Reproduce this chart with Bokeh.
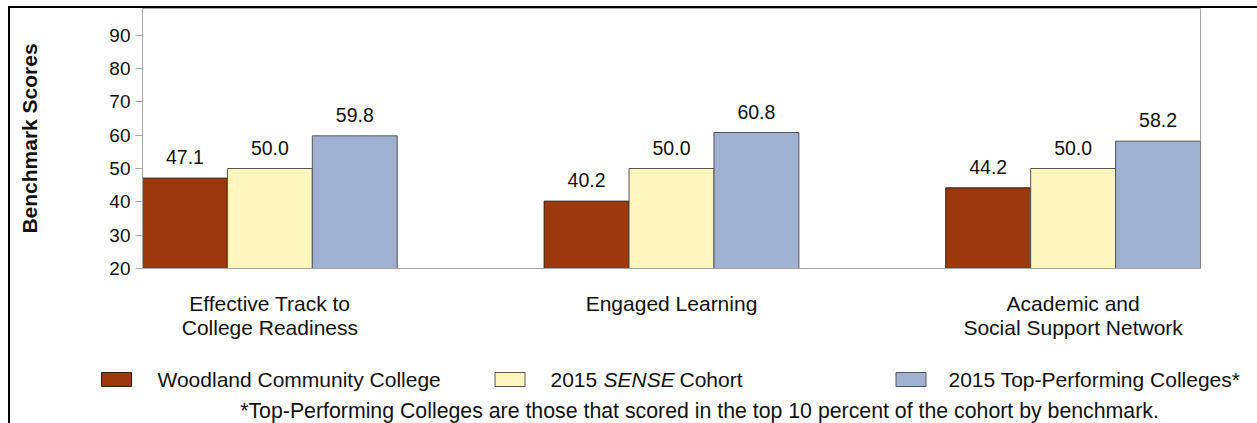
from bokeh.plotting import figure
from bokeh.models import ColumnDataSource, Range1d, FixedTicker
from bokeh.layouts import column
from bokeh.embed import file_html
from bokeh.resources import INLINE
from bokeh.core.properties import value

# ---- data ----
categories = ["Effective Track to\nCollege Readiness", "Engaged Learning",
              "Academic and\nSocial Support Network"]
series_names = ["Woodland Community College", "2015 SENSE Cohort",
                "2015 Top-Performing Colleges*"]
woodland = [47.1, 40.2, 44.2]
sense_cohort = [50.0, 50.0, 50.0]
top_performing = [59.8, 60.8, 58.2]
y_ticks = [20, 30, 40, 50, 60, 70, 80, 90]
footnote = "*Top-Performing Colleges are those that scored in the top 10 percent of the cohort by benchmark."

colors = ["#9D380D", "#FFF5BF", "#A0B0D1"]
outlines = ["#2a1a10", "#555555", "#555555"]
FONT = "Liberation Sans"
W = 1247

series = [woodland, sense_cohort, top_performing]
bar_w = 0.2114
offsets = [-bar_w, 0.0, bar_w]
idx = list(range(len(categories)))

p = figure(width=W, height=340, output_backend="svg", toolbar_location=None,
           x_range=Range1d(-1.5 * bar_w, len(categories) - 1 + 1.5 * bar_w),
           y_range=Range1d(20, 98),
           min_border_left=132, min_border_right=57, min_border_top=0,
           min_border_bottom=80)
p.background_fill_color = "white"
p.border_fill_color = "white"
p.outline_line_color = "#A6A6A6"
p.xgrid.visible = False
p.ygrid.visible = False

for vals, off, c, oc in zip(series, offsets, colors, outlines):
    xs = [i + off for i in idx]
    src = ColumnDataSource(dict(x=xs, top=vals, lab=["%.1f" % v for v in vals]))
    p.vbar(x="x", top="top", bottom=20, width=bar_w, source=src,
           fill_color=c, line_color=oc, line_width=1)
    p.text(x="x", y="top", text="lab", source=src, text_align="center",
           text_baseline="bottom", y_offset=-14, text_font=value(FONT),
           text_font_size="19.5px", text_color="#111111")

# y axis
ya = p.yaxis[0]
ya.ticker = FixedTicker(ticks=y_ticks)
ya.axis_label = "Benchmark Scores"
ya.axis_label_text_font = FONT
ya.axis_label_text_font_style = "bold"
ya.axis_label_text_font_size = "21px"
ya.axis_label_text_color = "#111111"
ya.axis_label_standoff = 65
ya.major_label_text_font = FONT
ya.major_label_text_font_size = "19px"
ya.major_label_text_color = "#111111"
ya.major_label_standoff = 5
ya.major_tick_out = 7
ya.major_tick_in = 0
ya.minor_tick_line_color = None
ya.axis_line_color = "#A6A6A6"
ya.major_tick_line_color = "#A6A6A6"

# x axis
xa = p.xaxis[0]
xa.ticker = FixedTicker(ticks=idx)
xa.major_label_overrides = {i: c for i, c in zip(idx, categories)}
xa.major_label_text_font = FONT
xa.major_label_text_font_size = "21px"
xa.major_label_text_color = "#111111"
xa.major_label_text_line_height = 1.05
xa.major_label_standoff = 17
xa.major_tick_line_color = None
xa.minor_tick_line_color = None
xa.axis_line_color = "#A6A6A6"

# ---- legend / footnote panel ----
H2 = 75
q = figure(width=W, height=H2, output_backend="svg", toolbar_location=None,
           x_range=Range1d(0, W), y_range=Range1d(H2, 0),
           min_border=0, min_border_left=0, min_border_right=0,
           min_border_top=0, min_border_bottom=0, frame_align=False)
q.axis.visible = False
q.xgrid.visible = False
q.ygrid.visible = False
q.outline_line_color = None
q.border_fill_color = "white"
q.background_fill_color = "white"

sq_x = [106, 499.5, 900.5]
q.rect(x=sq_x, y=[31] * 3, width=30, height=14, fill_color=colors,
       line_color=outlines, line_width=1)
txt_kw = dict(text_font=value(FONT), text_font_size="21px",
              text_baseline="middle", text_color="#111111")
q.text(x=[147], y=[31], text=[series_names[0]], **txt_kw)
q.text(x=[540], y=[31], text=["2015"], **txt_kw)
q.text(x=[593], y=[31], text=["SENSE"], text_font_style="italic", **txt_kw)
q.text(x=[669], y=[31], text=["Cohort"], **txt_kw)
q.text(x=[938], y=[31], text=[series_names[2]], **txt_kw)
q.text(x=[689], y=[62], text=[footnote], text_align="center",
       **dict(txt_kw, text_font_size="21.3px"))

layout = column(p, q, spacing=0,
                styles={"border-top": "2px solid black",
                        "border-left": "2px solid black",
                        "margin-left": "8px", "margin-top": "6px",
                        "background-color": "white"})

open("out.html", "w").write(file_html(layout, INLINE))
